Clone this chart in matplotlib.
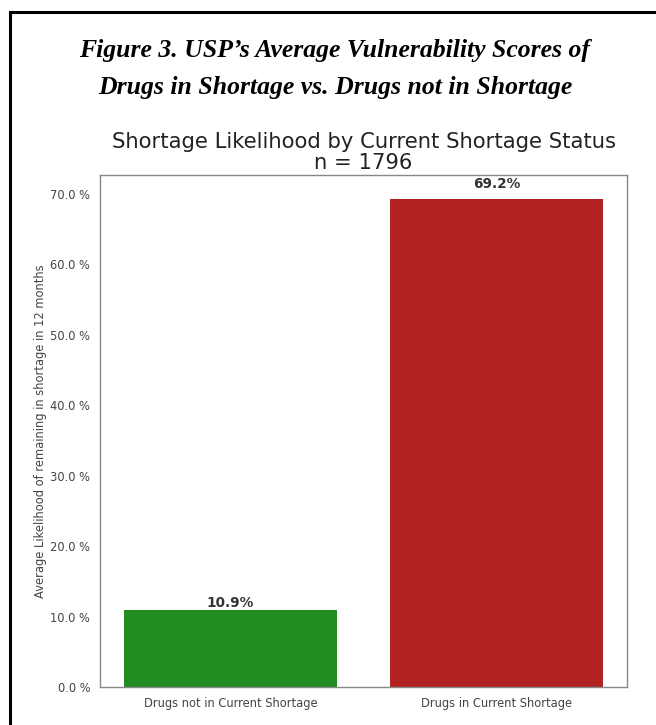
import matplotlib
matplotlib.use("Agg")
import matplotlib.pyplot as plt
from matplotlib.patches import Rectangle

# Data
categories = ["Drugs not in Current Shortage", "Drugs in Current Shortage"]
likelihood = [10.9, 69.2]
bar_colors = ["forestgreen", "firebrick"]
label_pad = [0, 6]  # points above bar top for value labels
n_total = 1796

fig = plt.figure(figsize=(6.56, 7.25), dpi=100)

# document-style outer frame (clipped at right and bottom like the screenshot)
frame = Rectangle((10 / 656, -0.1), 1.2, 1 - 12 / 725 + 0.1,
                  transform=fig.transFigure, fill=False,
                  edgecolor="black", linewidth=2.2)
fig.patches.append(frame)

fig.text(0.51, 0.931, "Figure 3. USP\u2019s Average Vulnerability Scores of",
         ha="center", va="center", family="Liberation Serif",
         weight="bold", style="italic", fontsize=18.5)
fig.text(0.511, 0.879, "Drugs in Shortage vs. Drugs not in Shortage",
         ha="center", va="center", family="Liberation Serif",
         weight="bold", style="italic", fontsize=18.5)

ax = fig.add_axes([100 / 656, 38 / 725, 527 / 656, 512 / 725])
x = range(len(categories))
bars = ax.bar(x, likelihood, width=0.8, color=bar_colors)

for b, v, pad in zip(bars, likelihood, label_pad):
    ax.annotate(f"{v:.1f}%", (b.get_x() + b.get_width() / 2, v),
                xytext=(0, pad), textcoords="offset points",
                ha="center", va="bottom", fontsize=9.8, weight="bold",
                color="#333333")

ax.set_xlim(-0.49, 1.49)
ax.set_ylim(0, max(likelihood) * 1.05)
ax.set_xticks(list(x))
ax.set_xticklabels(categories, fontsize=8.3, color="#444444")
ax.set_yticks(range(0, 71, 10))
ax.set_yticklabels([f"{t:.1f} %" for t in range(0, 71, 10)],
                   fontsize=8.3, color="#444444")
ax.tick_params(length=0, pad=7)
ax.set_ylabel("Average Likelihood of remaining in shortage in 12 months",
              fontsize=8.3, color="#444444", labelpad=2)
ax.set_title(f"Shortage Likelihood by Current Shortage Status\nn = {n_total}",
             fontsize=15.2, color="#222222", pad=4, linespacing=1.12)
for s in ax.spines.values():
    s.set_color("#888888")
    s.set_linewidth(1.0)

fig.savefig("out.png", dpi=100)
